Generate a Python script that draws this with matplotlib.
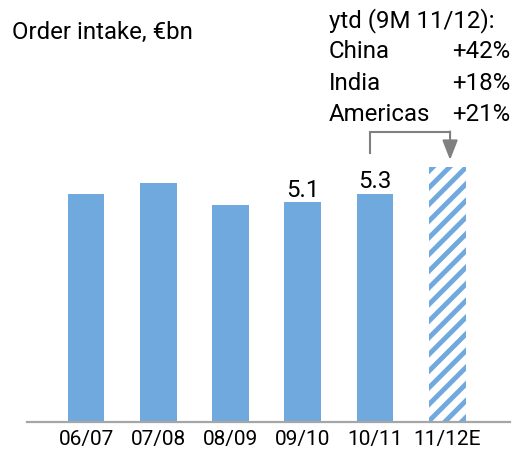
import matplotlib
matplotlib.use("Agg")
import matplotlib.pyplot as plt

# Order intake by fiscal year, EUR bn
years = ["06/07", "07/08", "08/09", "09/10", "10/11", "11/12E"]
order_intake = [5.3, 5.55, 5.03, 5.1, 5.3, 5.92]
is_estimate = [False, False, False, False, False, True]
value_labels = {3: "5.1", 4: "5.3"}

regions = ["China", "India", "Americas"]
region_growth = ["+42%", "+18%", "+21%"]

plt.rcParams["font.family"] = ["Roboto", "DejaVu Sans"]
plt.rcParams["hatch.linewidth"] = 3.5

W, H, DPI = 515, 453, 100
fig = plt.figure(figsize=(W / DPI, H / DPI), dpi=DPI)

BLUE = "#6FA9DE"
GREY = "#808080"
FS = 17.3

px_per_unit = 43.1
base_px = 422
ax = fig.add_axes([27 / W, (H - base_px) / H, (510 - 27) / W, base_px / H])
ax.set_ylim(0, base_px / px_per_unit)
ax.set_xlim(-0.817, 5.87)

x = list(range(len(years)))
for xi, v, est in zip(x, order_intake, is_estimate):
    if est:
        ax.bar(xi, v, width=0.51, facecolor="white", edgecolor=BLUE,
               hatch="//", linewidth=0)
    else:
        ax.bar(xi, v, width=0.51, color=BLUE, linewidth=0)

for i, txt in value_labels.items():
    ax.annotate(txt, (x[i], order_intake[i]), xytext=(0, 4),
                textcoords="offset points", ha="center", va="baseline",
                fontsize=FS)

ax.set_xticks(x)
ax.set_xticklabels(years, fontsize=15)
ax.tick_params(axis="x", length=0, pad=6)
ax.set_yticks([])
for side in ["top", "right", "left"]:
    ax.spines[side].set_visible(False)
ax.spines["bottom"].set_color("#A6A6A6")
ax.spines["bottom"].set_linewidth(1.6)

# bracket from 10/11 pointing to the estimate
y_low, y_top, y_tip = 6.24, 6.73, 6.08
x_l, x_r = 3.93, 5.04
ax.plot([x_l, x_l, x_r], [y_low, y_top, y_top], color=GREY, lw=1.5,
        solid_joinstyle="miter", clip_on=False)
ax.annotate("", xy=(x_r, y_tip), xytext=(x_r, y_top + 0.01),
            arrowprops=dict(arrowstyle="-|>,head_length=1.2,head_width=0.47",
                            mutation_scale=10, color=GREY, lw=1.5,
                            shrinkA=0, shrinkB=0))

fig.text(12 / W, 1 - 38.5 / H, "Order intake, €bn", fontsize=FS,
         ha="left", va="baseline")

fig.text(329 / W, 1 - 27 / H, "ytd (9M 11/12):", fontsize=FS,
         ha="left", va="baseline")
for k, (r, g) in enumerate(zip(regions, region_growth)):
    yy = 1 - (58 + 31.5 * k) / H
    fig.text(329 / W, yy, r, fontsize=FS, ha="left", va="baseline")
    fig.text(452 / W, yy, g, fontsize=FS, ha="left", va="baseline")

fig.savefig("out.png", dpi=DPI)
